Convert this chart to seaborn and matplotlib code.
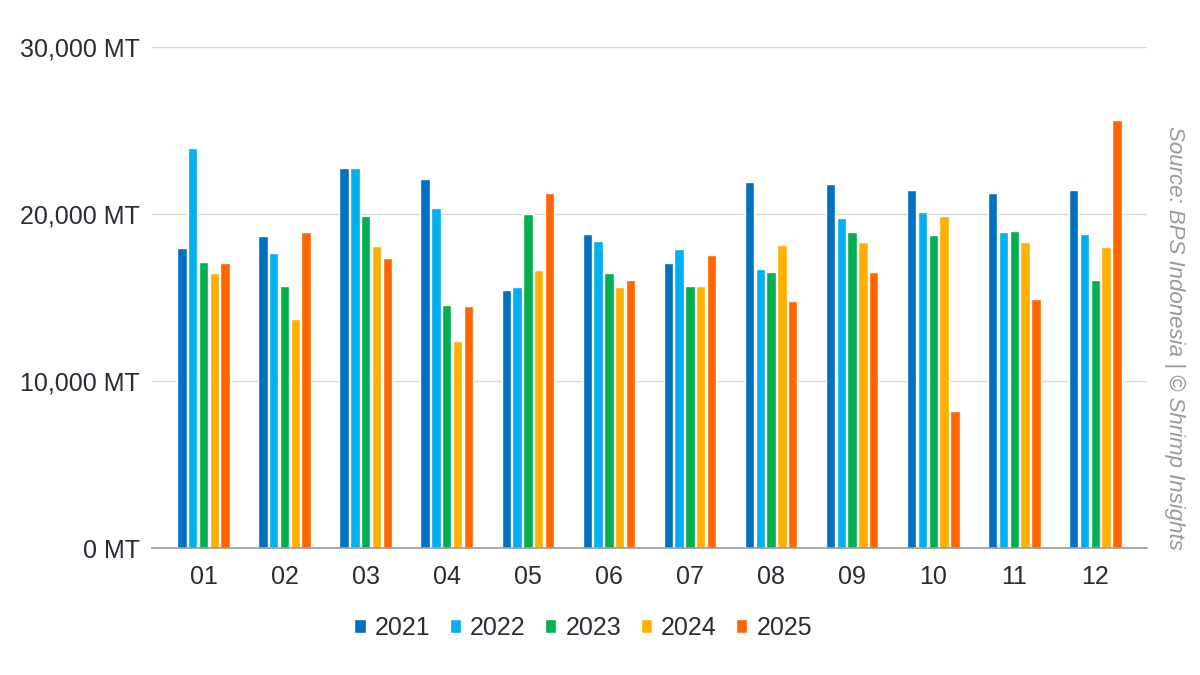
import pandas as pd
import matplotlib.pyplot as plt
import seaborn as sns
from matplotlib.ticker import FuncFormatter

# Monthly volumes (MT)
months = ['01', '02', '03', '04', '05', '06', '07', '08', '09', '10', '11', '12']
years = ['2021', '2022', '2023', '2024', '2025']
v2021 = [17950, 18670, 22780, 22080, 15430, 18790, 17050, 21940, 21820, 21460, 21280, 21460]
v2022 = [23990, 17650, 22780, 20400, 15610, 18370, 17890, 16690, 19800, 20140, 18940, 18820]
v2023 = [17150, 15690, 19900, 14550, 20040, 16450, 15690, 16510, 18940, 18730, 19020, 16030]
v2024 = [16450, 13710, 18070, 12400, 16630, 15610, 15690, 18130, 18340, 19900, 18340, 18010]
v2025 = [17050, 18960, 17350, 14490, 21240, 16030, 17530, 14830, 16510, 8200, 14950, 25630]
colors = ['#0070C0', '#00B0F0', '#00B050', '#FFB000', '#FF6600']

rows = []
for yr, vals in zip(years, [v2021, v2022, v2023, v2024, v2025]):
    for m, v in zip(months, vals):
        rows.append({'Month': m, 'Year': yr, 'Volume': v})
df = pd.DataFrame(rows)

sns.set_style('white')
plt.rcParams['font.family'] = ['Liberation Sans', 'DejaVu Sans']
text_color = '#2b2b36'

fig = plt.figure(figsize=(12, 6.75), dpi=100)
ax = fig.add_axes([0.1267, 0.188, 0.829, 0.742])

sns.barplot(data=df, x='Month', y='Volume', hue='Year', order=months, hue_order=years,
            palette=colors, saturation=1, width=0.666, gap=0.13, ax=ax, legend=True)

ax.set_ylim(0, 30000)
ax.set_yticks([0, 10000, 20000, 30000])
ax.yaxis.set_major_formatter(FuncFormatter(lambda v, p: f'{int(v):,} MT'))
ax.grid(axis='y', color='#d9d9d9', linewidth=1)
ax.set_axisbelow(True)
for s in ['top', 'right', 'left']:
    ax.spines[s].set_visible(False)
ax.spines['bottom'].set_color('#999999')
ax.spines['bottom'].set_linewidth(1.2)
ax.set_xlabel('')
ax.set_ylabel('')
ax.tick_params(axis='both', length=0, labelsize=18, colors=text_color)
ax.tick_params(axis='y', pad=9)
ax.tick_params(axis='x', pad=12)
ax.set_xlim(-0.635, 11.635)

handles, labels = ax.get_legend_handles_labels()
ax.get_legend().remove()
fig.legend(handles, labels, loc='center', bbox_to_anchor=(0.486, 0.07), ncol=5,
           frameon=False, fontsize=18, handlelength=0.45, handleheight=0.45,
           handletextpad=0.36, columnspacing=0.78, labelcolor=text_color)

fig.text(0.979, 0.50, 'Source: BPS Indonesia | © Shrimp Insights', rotation=270,
         ha='center', va='center', fontsize=16, style='italic', color='#999999')

fig.savefig('out.png', dpi=100)
